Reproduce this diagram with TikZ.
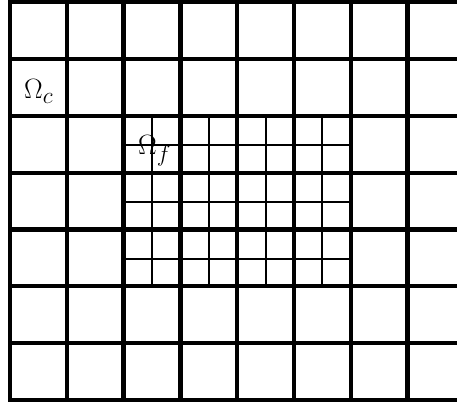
\documentclass[tikz,border=0pt]{standalone}
\usepackage{graphicx}
\begin{document}
\begin{tikzpicture}[x=1pt,y=-1pt,
  coarse/.style={line width=4.3pt,line cap=rect},
  fine/.style={line width=2pt},
  lbl/.style={inner sep=0pt,anchor=base west,font=\Huge}]
\useasboundingbox (0,0) rectangle (457,403);
\clip (0,0) rectangle (457,403);
\def\h{56.8}
% fine grid
\foreach \i in {1,3,5,7} \draw[fine] ({123.6+\i*28.4},116.5) -- ({123.6+\i*28.4},286.7);
\foreach \j in {1,3,5} \draw[fine] (123.6,{116.5+\j*28.4}) -- (350.8,{116.5+\j*28.4});
% coarse grid
\foreach \i in {0,...,8} \draw[coarse] ({10+\i*\h},2.3) -- ({10+\i*\h},399.9);
\foreach \j in {0,...,7} \draw[coarse] (10,{2.3+\j*\h}) -- (470,{2.3+\j*\h});
\node[lbl] (oc) at (24,99) {\scalebox{1.12}{$\Omega_c$}};
\node[lbl] (of) at (138,155) {\scalebox{1.12}{$\Omega_f$}};
\end{tikzpicture}
\end{document}
